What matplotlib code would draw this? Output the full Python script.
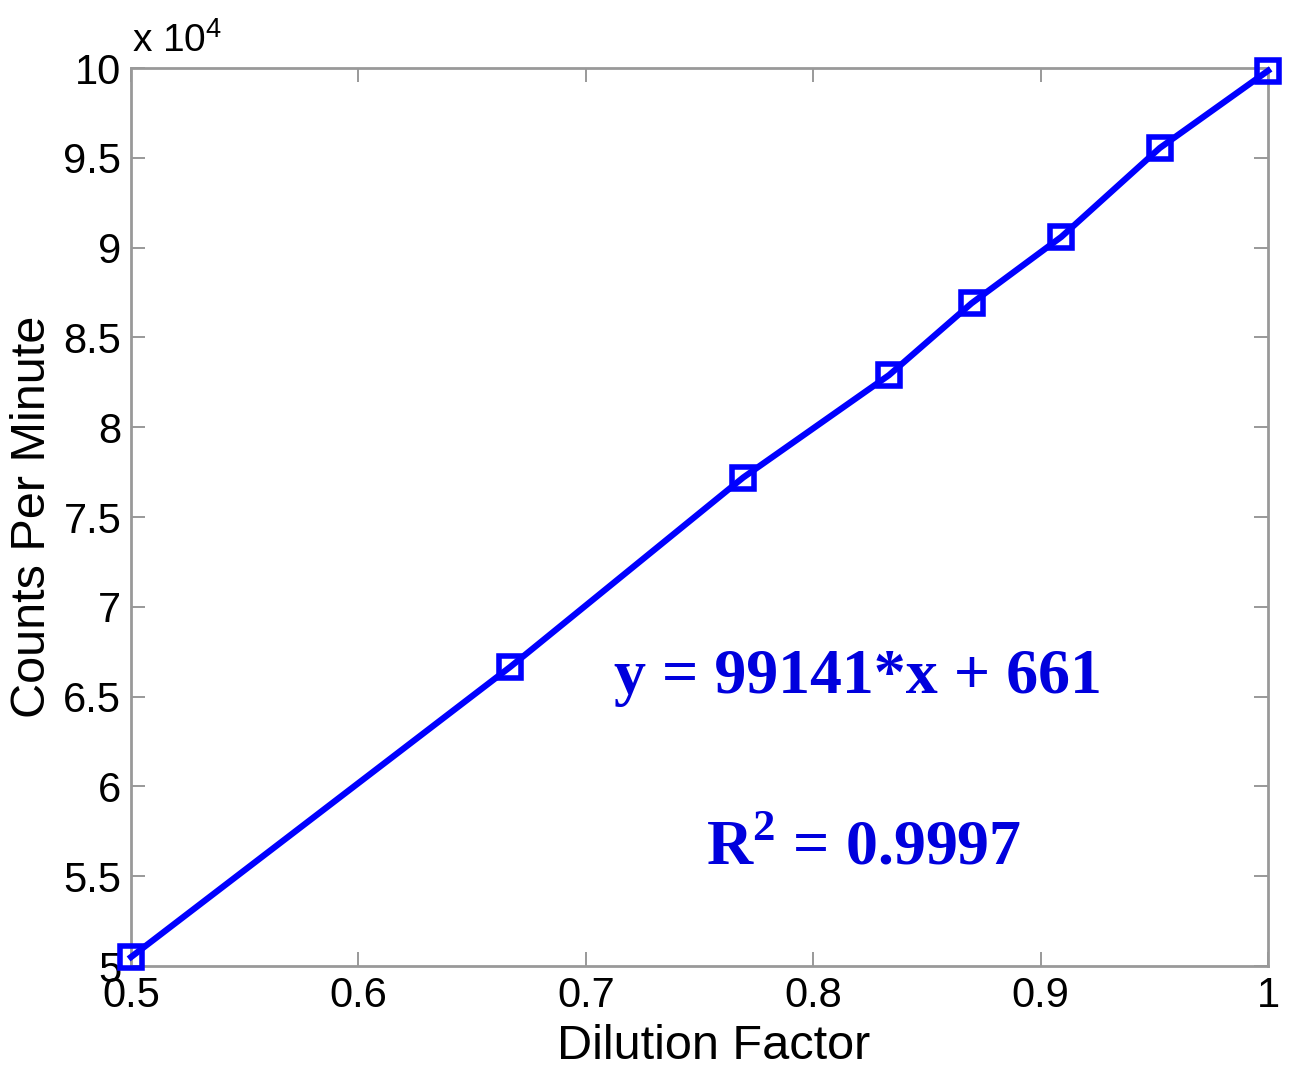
import matplotlib
matplotlib.use("Agg")
from matplotlib import pyplot as plt
from matplotlib.ticker import FuncFormatter

# dilution factor vs measured counts
dilution = [0.5, 0.6667, 0.7692, 0.8333, 0.8696, 0.9091, 0.9524, 1.0]
cpm = [50500, 66650, 77200, 82900, 86900, 90600, 95550, 99850]

xticks = [0.5, 0.6, 0.7, 0.8, 0.9, 1.0]
yticks = [50000, 55000, 60000, 65000, 70000, 75000, 80000, 85000, 90000, 95000, 100000]

fit_text = "y = 99141*x + 661"
r2_text = r"$\mathbf{R}^{\mathbf{2}}$ = 0.9997"

plt.rcParams['font.family'] = ['Liberation Sans', 'DejaVu Sans']
plt.rcParams['mathtext.fontset'] = 'custom'
plt.rcParams['mathtext.rm'] = 'Liberation Sans'
plt.rcParams['mathtext.bf'] = 'Liberation Serif:bold'

fig = plt.figure(figsize=(12.9, 10.73), dpi=100)
ax = fig.add_axes([0.1016, 0.0997, 0.8814, 0.8369])

ax.plot(dilution, cpm, '-s', color='#0000ff', lw=4.5, ms=16, mfc='none', mew=4, clip_on=False, zorder=5)

ax.set_xlim(0.5, 1.0)
ax.set_ylim(50000, 100000)
ax.set_xticks(xticks)
ax.set_yticks(yticks)
ax.xaxis.set_major_formatter(FuncFormatter(lambda v, p: '%g' % v))
ax.yaxis.set_major_formatter(FuncFormatter(lambda v, p: '%g' % (v / 1e4)))
ax.tick_params(direction='in', length=10, width=1.2, color='#888888', labelsize=30,
               top=True, right=True, pad=7)
for s in ax.spines.values():
    s.set_color('#999999')
    s.set_linewidth(2)

ax.set_xlabel('Dilution Factor', fontsize=35)
ax.xaxis.set_label_coords(0.512, -0.065)
ax.set_ylabel('Counts Per Minute', fontsize=35, labelpad=6)

fig.text(0.102, 0.944, 'x 10$^{4}$', fontsize=28, ha='left', va='bottom')

ax.text(0.639, 0.321, fit_text, transform=ax.transAxes, ha='center', va='center',
        fontsize=46, fontweight='bold', color='#0000dd', family='Liberation Serif')
ax.text(0.644, 0.13, r2_text, transform=ax.transAxes, ha='center', va='center',
        fontsize=46, fontweight='bold', color='#0000dd', family='Liberation Serif')

fig.savefig('out.png', dpi=100)
